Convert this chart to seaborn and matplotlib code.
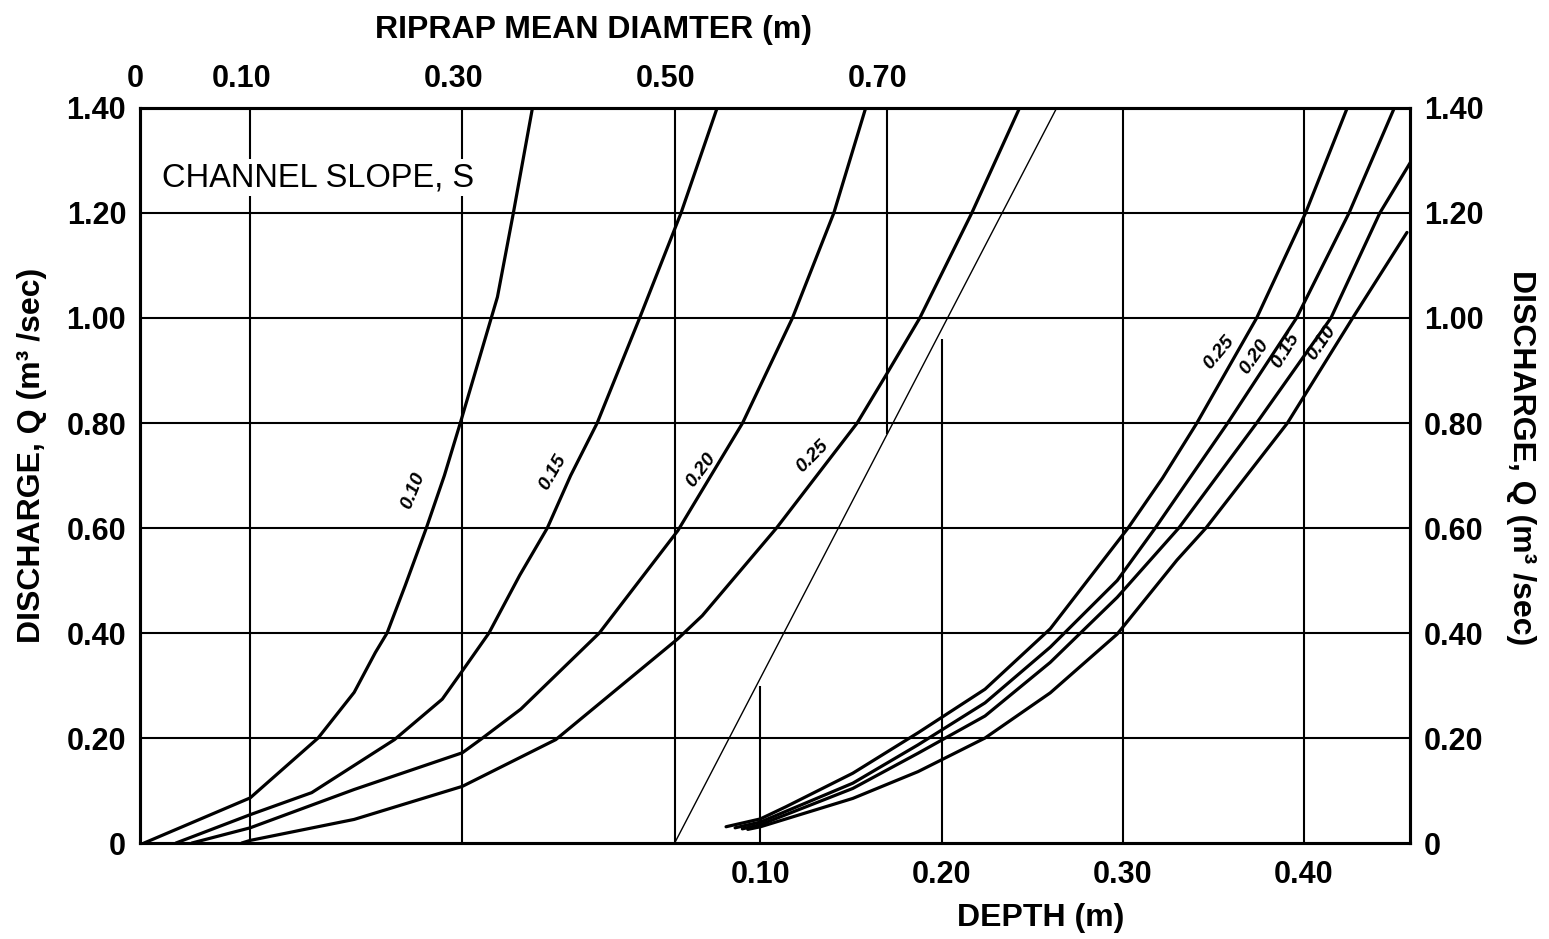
import numpy as np
import pandas as pd
import matplotlib
matplotlib.use("Agg")
import matplotlib.pyplot as plt
import matplotlib.transforms as mtransforms
import seaborn as sns

# ---- data read off the nomograph ----
# left family: riprap mean diameter (m) vs discharge, one curve per channel slope
slopes = ["0.10", "0.15", "0.20", "0.25"]
diam_s010 = [0.0, 0.10, 0.164, 0.198, 0.218, 0.229, 0.246, 0.266, 0.283, 0.298, 0.333, 0.348, 0.366]
q_s010 = [0.0, 0.086, 0.20, 0.287, 0.363, 0.40, 0.49, 0.60, 0.70, 0.80, 1.04, 1.20, 1.40]
diam_s015 = [0.030, 0.10, 0.158, 0.236, 0.281, 0.30, 0.325, 0.354, 0.380, 0.402, 0.427, 0.467, 0.506, 0.540]
q_s015 = [0.0, 0.054, 0.096, 0.197, 0.274, 0.328, 0.40, 0.51, 0.60, 0.70, 0.80, 1.00, 1.20, 1.40]
diam_s020 = [0.045, 0.10, 0.198, 0.30, 0.317, 0.355, 0.429, 0.503, 0.564, 0.611, 0.650, 0.680]
q_s020 = [0.0, 0.029, 0.102, 0.172, 0.197, 0.255, 0.40, 0.595, 0.80, 1.00, 1.20, 1.40]
diam_s025 = [0.092, 0.10, 0.198, 0.30, 0.388, 0.503, 0.526, 0.596, 0.672, 0.700, 0.731, 0.780, 0.825]
q_s025 = [0.0, 0.005, 0.045, 0.108, 0.197, 0.389, 0.433, 0.60, 0.80, 0.894, 1.00, 1.20, 1.40]

# right family: flow depth (m) vs discharge
depth_s025 = [0.081, 0.10, 0.114, 0.151, 0.187, 0.224, 0.260, 0.303, 0.322, 0.341, 0.374, 0.401, 0.424]
dq_s025 = [0.031, 0.046, 0.069, 0.133, 0.210, 0.293, 0.408, 0.60, 0.695, 0.80, 1.00, 1.20, 1.40]
depth_s020 = [0.086, 0.10, 0.151, 0.187, 0.224, 0.260, 0.297, 0.318, 0.358, 0.396, 0.425, 0.450]
dq_s020 = [0.029, 0.040, 0.114, 0.187, 0.267, 0.373, 0.500, 0.60, 0.80, 1.00, 1.20, 1.40]
depth_s015 = [0.090, 0.10, 0.151, 0.187, 0.224, 0.260, 0.297, 0.331, 0.374, 0.415, 0.442, 0.459]
dq_s015 = [0.027, 0.035, 0.104, 0.171, 0.242, 0.344, 0.468, 0.60, 0.80, 1.00, 1.20, 1.297]
depth_s010 = [0.093, 0.10, 0.151, 0.187, 0.224, 0.260, 0.297, 0.330, 0.346, 0.391, 0.427, 0.457]
dq_s010 = [0.026, 0.031, 0.085, 0.136, 0.200, 0.286, 0.398, 0.539, 0.60, 0.80, 1.00, 1.163]

# turning line + worked example
turn_diam = [0.50, 0.860]
turn_q = [0.0, 1.40]
example_diam = 0.70
example_diam_q = 0.78
example_depths = [0.10, 0.20]
example_depth_q = [0.30, 0.96]

# ticks / grid
q_ticks = [0, 0.2, 0.4, 0.6, 0.8, 1.0, 1.2, 1.4]
diam_ticks = [0, 0.10, 0.30, 0.50, 0.70]
diam_grid = [0.10, 0.30, 0.50]
depth_ticks = [0.10, 0.20, 0.30, 0.40]
depth_grid = [0.30, 0.40]

left_lbl_pos = [(0.254, 0.672, 68), (0.385, 0.707, 60), (0.525, 0.710, 53), (0.630, 0.737, 45)]
right_lbl_txt = ["0.25", "0.20", "0.15", "0.10"]
right_lbl_pos = [(0.353, 0.935, 50), (0.373, 0.926, 55), (0.390, 0.939, 58), (0.410, 0.952, 55)]

left = pd.concat([
    pd.DataFrame({"diam": d, "Q": q, "slope": s})
    for d, q, s in zip([diam_s010, diam_s015, diam_s020, diam_s025],
                       [q_s010, q_s015, q_s020, q_s025], slopes)
])
right = pd.concat([
    pd.DataFrame({"depth": d, "Q": q, "slope": s})
    for d, q, s in zip([depth_s025, depth_s020, depth_s015, depth_s010],
                       [dq_s025, dq_s020, dq_s015, dq_s010], right_lbl_txt)
])

sns.set_style("white")
plt.rcParams["font.family"] = ["Liberation Sans", "DejaVu Sans"]
plt.rcParams["text.color"] = "black"
plt.rcParams["axes.labelcolor"] = "black"
plt.rcParams["xtick.color"] = "black"
plt.rcParams["ytick.color"] = "black"

fig = plt.figure(figsize=(15.49, 9.39), dpi=100)
ax = fig.add_axes([0.0904, 0.1022, 0.8199, 0.7828])
ax.set_xlim(-0.2426, 0.4587)
ax.set_ylim(0, 1.40)
ax_top = ax.twiny()
ax_top.set_xlim(-0.0038, 1.193)

# grid
for q in q_ticks[1:-1]:
    ax.axhline(q, color="black", lw=1.5, zorder=1)
for d in diam_grid:
    ax_top.axvline(d, color="black", lw=1.5, zorder=1)
for d in depth_grid:
    ax.axvline(d, color="black", lw=1.5, zorder=1)

# curves
sns.lineplot(data=left, x="diam", y="Q", units="slope", estimator=None, sort=False,
             color="black", lw=2.3, ax=ax_top, legend=False, zorder=3)
sns.lineplot(data=right, x="depth", y="Q", units="slope", estimator=None, sort=False,
             color="black", lw=2.3, ax=ax, legend=False, zorder=3)

# turning line and example verticals
ax_top.plot(turn_diam, turn_q, color="black", lw=1.0, zorder=2)
ax_top.vlines(example_diam, example_diam_q, 1.40, color="black", lw=1.5, zorder=1)
ax.vlines(example_depths, 0, example_depth_q, color="black", lw=1.5, zorder=1)

# curve labels
for s, (x, y, r) in zip(slopes, left_lbl_pos):
    ax_top.text(x, y, s, rotation=r, ha="center", va="center", fontsize=14,
                fontweight="bold", fontstyle="italic", zorder=4)
for s, (x, y, r) in zip(right_lbl_txt, right_lbl_pos):
    ax.text(x, y, s, rotation=r, ha="center", va="center", fontsize=14,
            fontweight="bold", fontstyle="italic", zorder=4)

ax_top.text(0.017, 1.267, "CHANNEL SLOPE, S", fontsize=23.5, ha="left", va="center",
            zorder=5, bbox=dict(facecolor="white", edgecolor="none", pad=2))

# axes & ticks
ax.set_yticks(q_ticks)
ax.set_yticklabels(["0"] + [f"{q:.2f}" for q in q_ticks[1:]])
ax.set_xticks(depth_ticks)
ax.set_xticklabels([f"{d:.2f}" for d in depth_ticks])
ax_top.set_xticks(diam_ticks)
ax_top.set_xticklabels(["0"] + [f"{d:.2f}" for d in diam_ticks[1:]])

ax.tick_params(axis="y", length=0, labelsize=22, pad=10, right=False, labelright=True)
ax.tick_params(axis="x", length=0, labelsize=22, pad=12)
ax_top.tick_params(axis="x", length=0, labelsize=22, pad=10)
for lab in ax.get_yticklabels() + ax.get_xticklabels() + ax_top.get_xticklabels():
    lab.set_fontweight("bold")
shift = mtransforms.ScaledTranslation(-0.09, 0, fig.dpi_scale_trans)
for lab in ax_top.get_xticklabels():
    lab.set_transform(lab.get_transform() + shift)

for a in (ax, ax_top):
    for sp in a.spines.values():
        sp.set_visible(True)
        sp.set_color("black")
        sp.set_linewidth(2.2)

ax.set_xlabel("DEPTH (m)", fontsize=23, fontweight="bold")
ax.xaxis.set_label_coords(0.709, -0.082)
ax_top.set_xlabel("RIPRAP MEAN DIAMTER (m)", fontsize=23, fontweight="bold")
ax_top.xaxis.set_label_coords(0.357, 1.095)
ax.set_ylabel("DISCHARGE, Q (m³ /sec)", fontsize=23, fontweight="bold")
ax.yaxis.set_label_coords(-0.073, 0.528)
ax.text(1.087, 0.525, "DISCHARGE, Q (m³ /sec)", transform=ax.transAxes, rotation=-90,
        ha="center", va="center", fontsize=23, fontweight="bold")

fig.savefig("out.png", dpi=100)
